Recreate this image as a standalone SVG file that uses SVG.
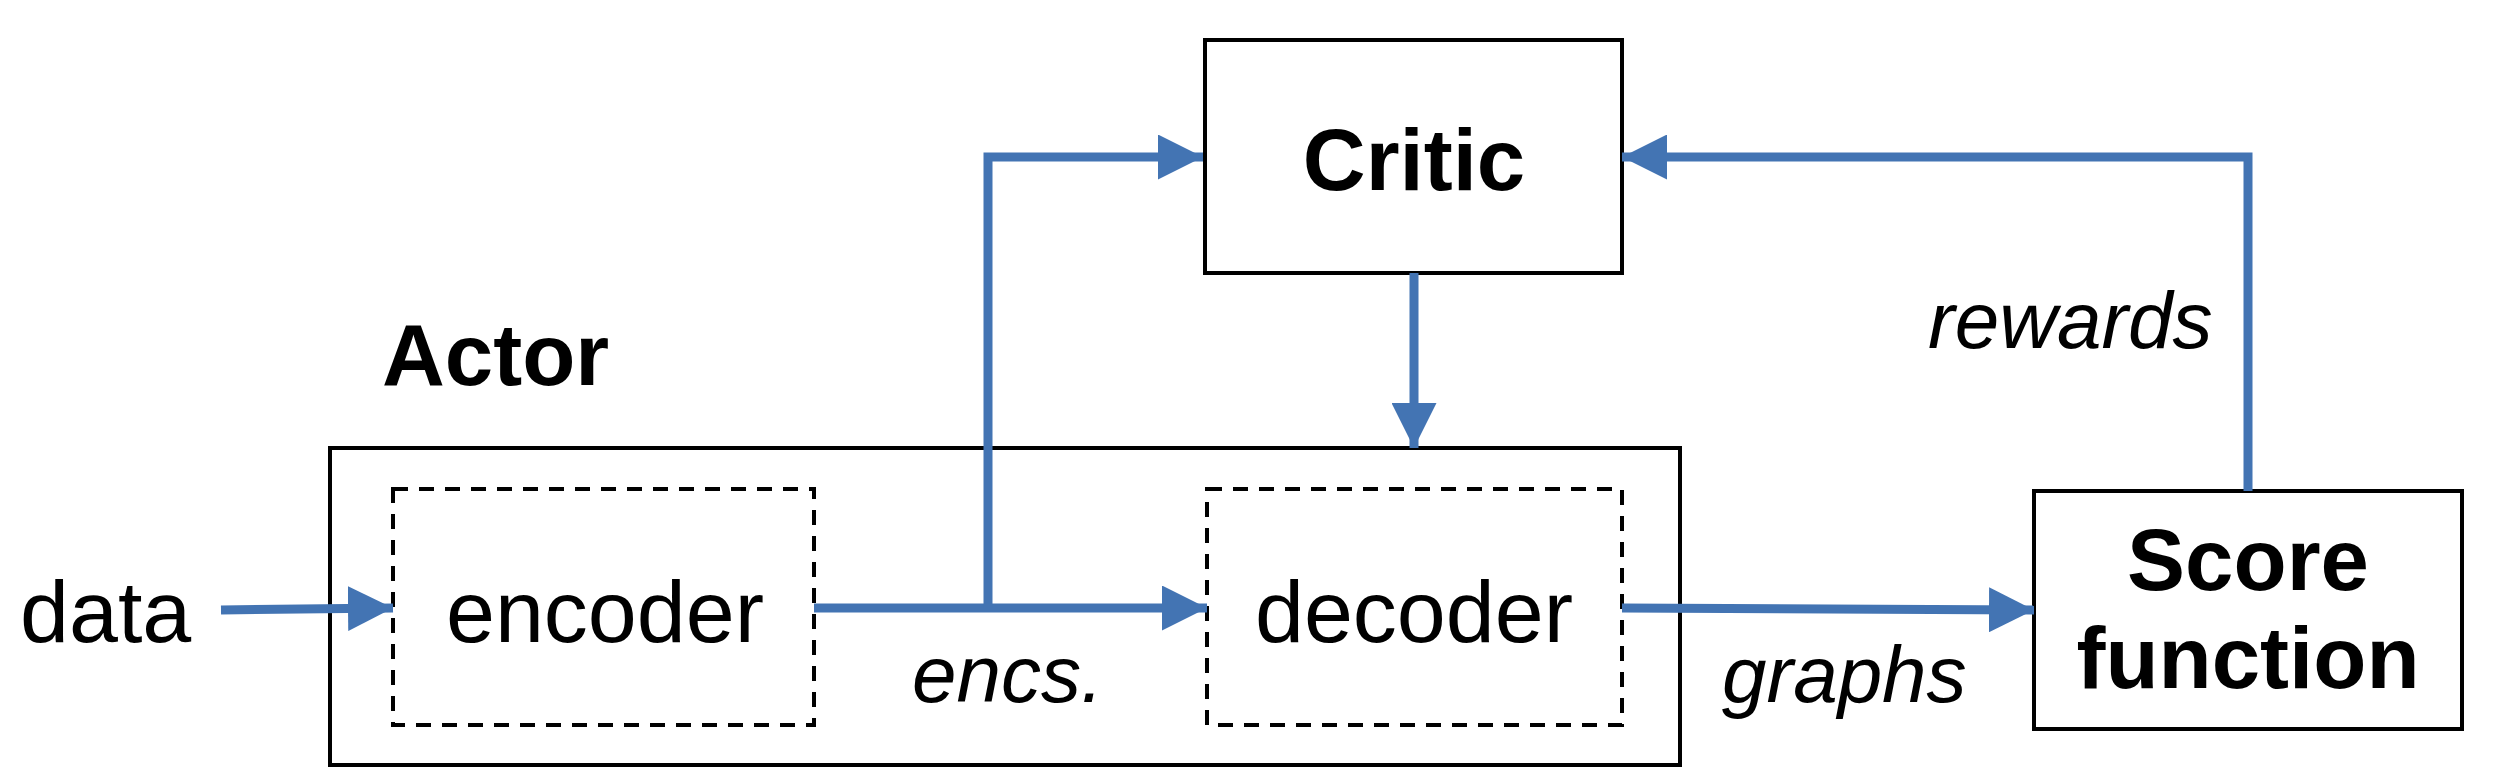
<svg xmlns="http://www.w3.org/2000/svg" width="2500" height="781" viewBox="0 0 2500 781">
<style>
.box{fill:none;stroke:#000;stroke-width:4}
.dash{fill:none;stroke:#000;stroke-width:4;stroke-dasharray:15 11}
.bold{font-family:"Liberation Sans",Arial,sans-serif;font-weight:bold;font-size:87px;fill:#000}
.reg{font-family:"Liberation Sans",Arial,sans-serif;font-size:88px;fill:#000}
.ital{font-family:"Liberation Sans",Arial,sans-serif;font-style:italic;font-size:80px;fill:#000}
.con{fill:none;stroke:#4374B3;stroke-width:9}
</style>
<defs>
<marker id="ah" viewBox="0 0 45 45" refX="45" refY="22.5" markerWidth="45" markerHeight="45" markerUnits="userSpaceOnUse" orient="auto">
<path d="M0,0 L45,22.5 L0,45 Z" fill="#4374B3"/>
</marker>
</defs>
<rect width="2500" height="781" fill="#fff"/>
<g id="actor">
<rect class="box" x="330" y="448" width="1350" height="317"/>
<text class="bold" x="382" y="385">Actor</text>
</g>
<g id="encoder">
<rect class="dash" x="393" y="489" width="421" height="236"/>
<text class="reg" x="605" y="642" text-anchor="middle">encoder</text>
</g>
<g id="decoder">
<rect class="dash" x="1207" y="489" width="415" height="236"/>
<text class="reg" x="1414" y="642" text-anchor="middle">decoder</text>
</g>
<g id="critic">
<rect class="box" x="1205" y="40" width="417" height="233"/>
<text class="bold" x="1414" y="190" text-anchor="middle">Critic</text>
</g>
<g id="score">
<rect class="box" x="2034" y="491" width="428" height="238"/>
<text class="bold" x="2248" y="590" text-anchor="middle">Score</text>
<text class="bold" x="2248" y="688" text-anchor="middle">function</text>
</g>
<g id="data">
<text class="reg" x="20" y="642">data</text>
</g>
<g id="connectors">
<path class="con" d="M221,610 L393,608" marker-end="url(#ah)"/>
<path class="con" d="M814,608 L1207,608" marker-end="url(#ah)"/>
<path class="con" d="M988,608 L988,157 L1203,157" marker-end="url(#ah)"/>
<path class="con" d="M1414,273 L1414,448" marker-end="url(#ah)"/>
<path class="con" d="M1622,608 L2034,610" marker-end="url(#ah)"/>
<path class="con" d="M2248,491 L2248,157 L1622,157" marker-end="url(#ah)"/>
<text class="ital" x="912" y="702">encs.</text>
<text class="ital" x="1722" y="702">graphs</text>
<text class="ital" x="1928" y="348">rewards</text>
</g>
</svg>
